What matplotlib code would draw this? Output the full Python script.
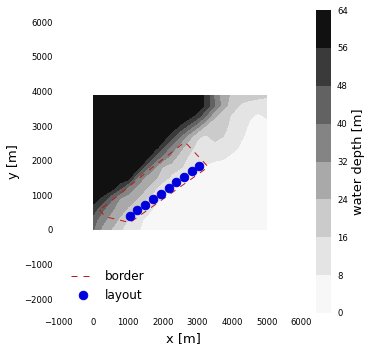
import numpy as np
import matplotlib
matplotlib.use('Agg')
import matplotlib.pyplot as plt

x_grid = [0, 250, 500, 750, 1000, 1250, 1500, 1750, 2000, 2250, 2500, 2750, 3000, 3250, 3500, 3750, 4000, 4250, 4500, 4750, 5000]
y_grid = [0, 300, 600, 900, 1200, 1500, 1800, 2100, 2400, 2700, 3000, 3300, 3600, 3870]
depth = [
    [40, 30, 24, 17, 13, 9, 6, 5, 5, 4, 4, 4, 4, 4, 4, 4, 4, 4, 4, 4, 4],
    [44, 35, 29, 23, 16, 11, 7, 5, 5, 4, 4, 4, 4, 4, 4, 4, 4, 4, 4, 4, 4],
    [52, 42, 34, 28, 23, 16, 12, 7, 5, 5, 4, 4, 4, 4, 4, 4, 4, 4, 4, 4, 4],
    [60, 54, 42, 32, 28, 24, 17, 11, 7, 5, 5, 4, 4, 4, 4, 4, 4, 4, 4, 4, 4],
    [62, 62, 60, 50, 37, 30, 25, 18, 10, 7, 5, 5, 4, 4, 4, 4, 4, 4, 4, 4, 4],
    [62, 62, 62, 62, 60, 40, 30, 26, 20, 14, 7, 5, 5, 4, 4, 4, 4, 4, 4, 4, 4],
    [62, 62, 62, 62, 62, 60, 44, 33, 23, 20, 17, 12, 8, 6, 5, 4, 4, 4, 4, 4, 4],
    [62, 62, 62, 62, 62, 62, 62, 47, 37, 29, 20, 15, 13, 12, 10, 9, 6, 5, 4, 4, 4],
    [62, 62, 62, 62, 62, 62, 62, 62, 50, 38, 28, 19, 14, 13, 14, 14, 11, 7, 5, 4, 4],
    [62, 62, 62, 62, 62, 62, 62, 62, 62, 51, 40, 28, 17, 15, 18, 16, 11, 9, 6, 5, 5],
    [62, 62, 62, 62, 62, 62, 62, 62, 62, 62, 55, 46, 35, 23, 20, 18, 14, 11, 7, 5, 5],
    [62, 62, 62, 62, 62, 62, 62, 62, 62, 62, 62, 60, 53, 40, 25, 20, 15, 12, 9, 7, 9],
    [62, 62, 62, 62, 62, 62, 62, 62, 62, 62, 62, 62, 62, 54, 40, 27, 20, 15, 13, 12, 11],
    [62, 62, 62, 62, 62, 62, 62, 62, 62, 62, 62, 62, 62, 54, 38, 28, 22, 20, 19, 18, 17],
]
depth_levels = [0, 8, 16, 24, 32, 40, 48, 56, 64]

# turbine layout and site border
layout_x = [1050, 1270, 1500, 1720, 1940, 2170, 2390, 2610, 2840, 3060]
layout_y = [410, 570, 730, 890, 1050, 1210, 1370, 1530, 1690, 1850]
border_x = [187, 332, 1053, 3313, 2640, 1631, 806, 187]
border_y = [577, 385, 211, 1817, 2539, 1748, 1068, 577]

W, H = 371, 351
fig = plt.figure(figsize=(W / 72, H / 72), dpi=72)
ax = fig.add_axes([58 / W, 1 - 313 / H, 250 / W, 303 / H])
cax = fig.add_axes([316 / W, 1 - 313 / H, 15 / W, 303 / H])

cs = ax.contourf(x_grid, y_grid, np.array(depth), levels=depth_levels, cmap='Greys')
ax.plot(border_x, border_y, color='#c01818', lw=1, dashes=(6, 6), label='border')
ax.plot(layout_x, layout_y, 'o', color='#0000dd', ms=8.5, ls='none', label='layout')

ax.set_xlim(-1020, 6190)
ax.set_ylim(-2400, 6350)
ax.set_xticks(range(-1000, 6001, 1000))
ax.set_yticks(range(-2000, 6001, 1000))
ax.tick_params(length=0, labelsize=8.5, pad=5)
for s in ax.spines.values():
    s.set_visible(False)
ax.set_xlabel('x [m]', fontsize=13, labelpad=5)
ax.set_ylabel('y [m]', fontsize=13, labelpad=4)
ax.legend(loc='lower left', bbox_to_anchor=(0.01, 0.0), frameon=False, fontsize=12, numpoints=1)

cb = fig.colorbar(cs, cax=cax)
cb.set_ticks(depth_levels)
cb.ax.tick_params(length=0, labelsize=8.5, pad=6)
cb.outline.set_visible(False)
cb.set_label('water depth [m]', fontsize=13, labelpad=4)

fig.savefig('out.png', dpi=72)
